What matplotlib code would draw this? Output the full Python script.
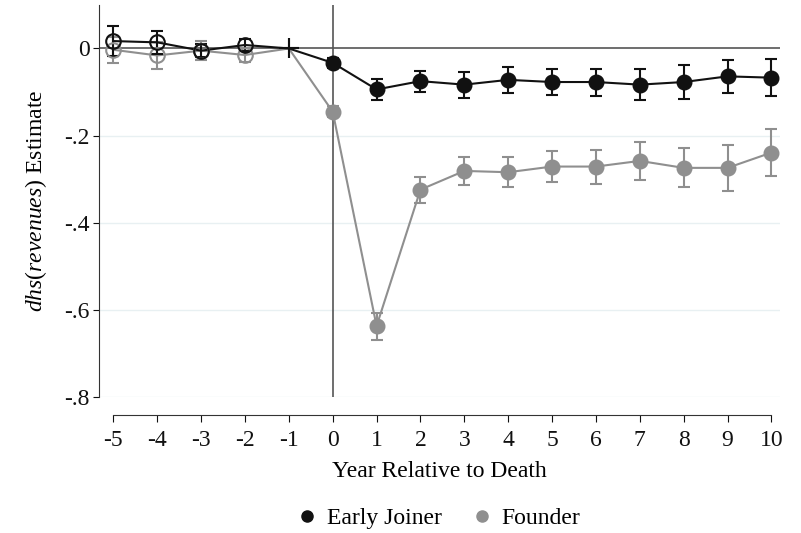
import numpy as np
import matplotlib.pyplot as plt
from matplotlib.lines import Line2D

plt.rcParams['font.family'] = 'Liberation Serif'
plt.rcParams['mathtext.fontset'] = 'custom'
plt.rcParams['mathtext.rm'] = 'Liberation Serif'
plt.rcParams['mathtext.it'] = 'Liberation Serif:italic'

# event time
years = [-5, -4, -3, -2, -1, 0, 1, 2, 3, 4, 5, 6, 7, 8, 9, 10]

# Early Joiner estimates and CI half-widths
joiner_est = [0.017, 0.014, -0.005, 0.008, 0.0, -0.033, -0.094, -0.075, -0.083, -0.072,
              -0.077, -0.077, -0.083, -0.077, -0.064, -0.067]
joiner_err = [0.034, 0.026, 0.015, 0.014, 0.0, 0.012, 0.024, 0.024, 0.030, 0.030,
              0.029, 0.031, 0.035, 0.038, 0.038, 0.043]

# Founder estimates and CI half-widths
founder_est = [-0.003, -0.016, -0.005, -0.015, 0.0, -0.145, -0.637, -0.324, -0.281, -0.284,
               -0.271, -0.271, -0.258, -0.274, -0.274, -0.239]
founder_err = [0.030, 0.030, 0.022, 0.016, 0.0, 0.012, 0.031, 0.030, 0.032, 0.034,
               0.036, 0.039, 0.043, 0.045, 0.052, 0.054]

y_ticks = [0, -0.2, -0.4, -0.6, -0.8]
y_tick_labels = ['0', '-.2', '-.4', '-.6', '-.8']

black = '#111111'
gray = '#8f8f8f'

fig = plt.figure(figsize=(8.01, 5.33), dpi=100)
ax = fig.add_axes([0.124, 0.255, 0.850, 0.735])

# grid, reference lines
for t in y_ticks[1:]:
    ax.axhline(t, color='#e8f0f2', lw=1.0, zorder=0)
ax.axhline(0, color='#555555', lw=1.2, zorder=1)
ax.axvline(0, color='#555555', lw=1.2, zorder=1)

x = np.array(years)
pre = x < -1
ref = x == -1
post = x >= 0

for est, err, col in [(founder_est, founder_err, gray), (joiner_est, joiner_err, black)]:
    est = np.array(est)
    err = np.array(err)
    ax.plot(x, est, color=col, lw=1.5, zorder=2)
    mask = err > 0
    ax.errorbar(x[mask], est[mask], yerr=err[mask], fmt='none', ecolor=col,
                elinewidth=1.5, capsize=4, capthick=1.5, zorder=2)
    ax.plot(x[pre], est[pre], 'o', ms=10.5, mfc='none', mec=col, mew=1.5, zorder=3)
    ax.plot(x[post], est[post], 'o', ms=10.5, mfc=col, mec=col, zorder=3)
    ax.plot(x[ref], est[ref], '+', ms=14, mew=1.5, color=col, zorder=3)

ax.set_xlim(-5.32, 10.2)
ax.set_ylim(-0.8, 0.099)
ax.set_xticks(years)
ax.set_xticklabels([str(v) for v in years])
ax.set_yticks(y_ticks)
ax.set_yticklabels(y_tick_labels)

for s in ['top', 'right']:
    ax.spines[s].set_visible(False)
ax.spines['left'].set_color('#333333')
ax.spines['bottom'].set_color('#333333')
ax.spines['bottom'].set_position(('outward', 13))
ax.spines['bottom'].set_bounds(-5, 10)
ax.tick_params(axis='both', labelsize=17, colors='#111111', direction='out')
ax.tick_params(axis='x', length=5, pad=6)
ax.tick_params(axis='y', length=4, pad=3)

ax.set_xlabel('Year Relative to Death', fontsize=17, labelpad=7)
ax.set_ylabel(r'$\mathit{dhs(revenues)}$ Estimate', fontsize=17, labelpad=11)

handles = [Line2D([], [], marker='o', ls='none', ms=8, color=black),
           Line2D([], [], marker='o', ls='none', ms=8, color=gray)]
fig.legend(handles, ['Early Joiner', 'Founder'], loc='lower center',
           bbox_to_anchor=(0.545, -0.033), ncol=2, frameon=False, fontsize=17,
           handletextpad=0.25, handlelength=1.2, columnspacing=1.1)

fig.savefig('out.png', dpi=100)
